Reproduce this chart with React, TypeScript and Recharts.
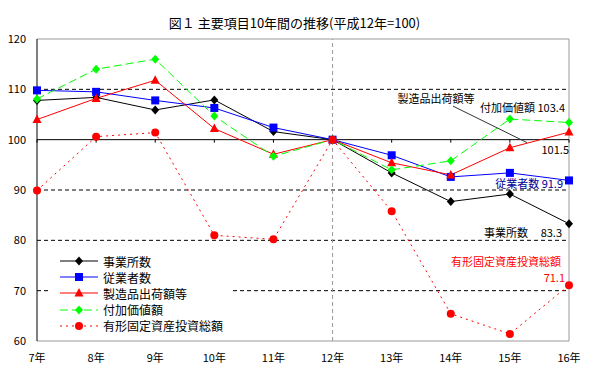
import { LineChart, Line, XAxis, YAxis, ReferenceLine, ReferenceDot } from "recharts";

const years = ["7年", "8年", "9年", "10年", "11年", "12年", "13年", "14年", "15年", "16年"];
const establishments = [107.8, 108.4, 105.9, 107.9, 101.6, 100, 93.4, 87.7, 89.2, 83.3];
const employees = [109.8, 109.5, 107.8, 106.3, 102.4, 100, 96.9, 92.6, 93.4, 91.9];
const shipments = [104.0, 108.2, 111.8, 102.2, 97.1, 100, 95.4, 93.0, 98.4, 101.5];
const valueAdded = [108.1, 114.0, 116.0, 104.7, 96.7, 100, 94.0, 95.8, 104.1, 103.4];
const investment = [89.9, 100.6, 101.4, 81.0, 80.2, 100, 85.8, 65.4, 61.4, 71.1];
const yTicks = [60, 70, 80, 90, 100, 110, 120];
const dashedGrid = [70, 80, 90, 110];

const FONT = '"Noto Sans CJK JP", "Noto Sans", sans-serif';

type Marker = "diamond" | "square" | "triangle" | "circle";

const series: { key: string; name: string; color: string; marker: Marker; dash?: string }[] = [
  { key: "establishments", name: "事業所数", color: "#000000", marker: "diamond" },
  { key: "employees", name: "従業者数", color: "#0000ff", marker: "square" },
  { key: "shipments", name: "製造品出荷額等", color: "#ff0000", marker: "triangle" },
  { key: "valueAdded", name: "付加価値額", color: "#00ff00", marker: "diamond", dash: "8 4" },
  { key: "investment", name: "有形固定資産投資総額", color: "#ff0000", marker: "circle", dash: "2 4" },
];

const data = years.map((year, i) => ({
  year,
  establishments: establishments[i],
  employees: employees[i],
  shipments: shipments[i],
  valueAdded: valueAdded[i],
  investment: investment[i],
}));

function markerShape(marker: Marker, cx: number, cy: number, color: string, key?: any) {
  if (marker === "diamond")
    return <polygon key={key} points={`${cx},${cy - 4.5} ${cx + 4},${cy} ${cx},${cy + 4.5} ${cx - 4},${cy}`} fill={color} />;
  if (marker === "square") return <rect key={key} x={cx - 4} y={cy - 4} width={8} height={8} fill={color} />;
  if (marker === "triangle")
    return <polygon key={key} points={`${cx},${cy - 5} ${cx + 4.5},${cy + 3.5} ${cx - 4.5},${cy + 3.5}`} fill={color} />;
  return <circle key={key} cx={cx} cy={cy} r={4} fill={color} />;
}

const last = years.length - 1;
const annoFont = { fontFamily: FONT, fontSize: 11 };

export default function App() {
  return (
    <div style={{ position: "absolute", left: 0, top: 0, width: 589, height: 374, background: "#fff" }}>
      <div
        style={{
          position: "absolute",
          left: 0,
          top: 13,
          width: 589,
          textAlign: "center",
          fontFamily: FONT,
          fontSize: 13,
          color: "#000",
        }}
      >
        図１ 主要項目10年間の推移(平成12年=100)
      </div>
      <LineChart width={589} height={374} data={data} margin={{ top: 39, right: 20, bottom: 0, left: 0 }}>
        {dashedGrid.map((v) => (
          <ReferenceLine key={v} y={v} stroke="#000" strokeDasharray="4 3" />
        ))}
        <ReferenceLine y={120} stroke="#999" />
        <ReferenceLine y={60} stroke="#999" />
        <ReferenceLine x={years[last]} stroke="#999" />
        <ReferenceLine x="12年" stroke="#999" strokeDasharray="4 3" />
        <ReferenceLine y={100} stroke="#000" />
        {years.map((y) => (
          <ReferenceLine key={"t" + y} segment={[{ x: y, y: 100 }, { x: y, y: 99.4 }]} stroke="#000" />
        ))}
        <XAxis
          dataKey="year"
          interval={0}
          axisLine={false}
          tickLine={false}
          tickSize={0}
          tickMargin={13}
          height={33}
          tick={{ fill: "#000", fontSize: 11, fontFamily: FONT }}
        />
        <YAxis
          domain={[60, 120]}
          ticks={yTicks}
          width={37}
          axisLine={{ stroke: "#000" }}
          tickLine={false}
          tickSize={0}
          tickMargin={11}
          tick={{ fill: "#000", fontSize: 11, fontFamily: FONT }}
        />
        {series.map((s) => (
          <Line
            key={s.key}
            dataKey={s.key}
            name={s.name}
            stroke={s.color}
            strokeWidth={1}
            strokeDasharray={s.dash}
            isAnimationActive={false}
            dot={(p: any) => markerShape(s.marker, p.cx, p.cy, s.color, p.index)}
            activeDot={false}
          />
        ))}
        <ReferenceDot
          x={years[last]}
          y={shipments[last]}
          r={0}
          shape={(p: any) => (
            <g>
              <text x={p.cx - 133} y={p.cy - 34} textAnchor="middle" dominantBaseline="central" {...annoFont} fill="#000">
                製造品出荷額等
              </text>
              <line x1={p.cx - 116} y1={p.cy - 26} x2={p.cx - 42} y2={p.cy + 10.5} stroke="#333" />
              <text x={p.cx} y={p.cy + 17} textAnchor="end" dominantBaseline="central" {...annoFont} fill="#000">
                {shipments[last].toFixed(1)}
              </text>
            </g>
          )}
        />
        <ReferenceDot
          x={years[last]}
          y={valueAdded[last]}
          r={0}
          shape={(p: any) => (
            <text x={p.cx - 4} y={p.cy - 16} textAnchor="end" dominantBaseline="central" {...annoFont} fill="#000">
              付加価値額 {valueAdded[last].toFixed(1)}
            </text>
          )}
        />
        <ReferenceDot
          x={years[last]}
          y={employees[last]}
          r={0}
          shape={(p: any) => (
            <text x={p.cx - 6} y={p.cy + 3} textAnchor="end" dominantBaseline="central" {...annoFont} fill="#000099">
              従業者数 {employees[last].toFixed(1)}
            </text>
          )}
        />
        <ReferenceDot
          x={years[last]}
          y={establishments[last]}
          r={0}
          shape={(p: any) => (
            <g>
              <text x={p.cx - 41} y={p.cy + 8} textAnchor="end" dominantBaseline="central" {...annoFont} fill="#000">
                事業所数
              </text>
              <text x={p.cx - 7} y={p.cy + 8} textAnchor="end" dominantBaseline="central" {...annoFont} fill="#000">
                {establishments[last].toFixed(1)}
              </text>
            </g>
          )}
        />
        <ReferenceDot
          x={years[last]}
          y={investment[last]}
          r={0}
          shape={(p: any) => (
            <g>
              <text x={p.cx - 8} y={p.cy - 24} textAnchor="end" dominantBaseline="central" {...annoFont} fill="#ff0000">
                有形固定資産投資総額
              </text>
              <text x={p.cx - 4} y={p.cy - 8} textAnchor="end" dominantBaseline="central" {...annoFont} fill="#ff0000">
                {investment[last].toFixed(1)}
              </text>
            </g>
          )}
        />
      </LineChart>
      <div
        style={{
          position: "absolute",
          left: 48,
          top: 253,
          width: 182,
          height: 82,
          background: "#fff",
          fontFamily: FONT,
          fontSize: 12,
          color: "#000",
        }}
      >
        {series.map((s) => (
          <div key={s.key} style={{ display: "flex", alignItems: "center", height: 16.2 }}>
            <svg width={55} height={16} style={{ flex: "none" }}>
              <line x1={12} y1={8} x2={50} y2={8} stroke={s.color} strokeDasharray={s.dash} />
              {markerShape(s.marker, 31, 8, s.color)}
            </svg>
            <span style={{ whiteSpace: "nowrap" }}>{s.name}</span>
          </div>
        ))}
      </div>
    </div>
  );
}
